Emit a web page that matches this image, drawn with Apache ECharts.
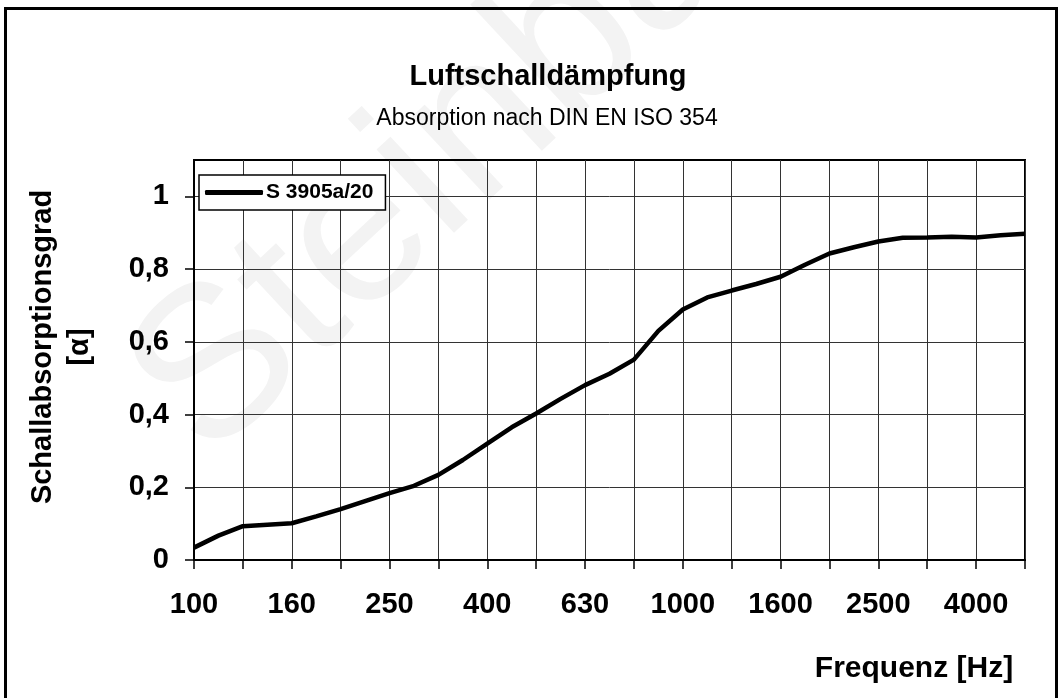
<!DOCTYPE html>
<html>
<head>
<meta charset="utf-8">
<script src="https://cdn.jsdelivr.net/npm/echarts@6/dist/echarts.min.js"></script>
<style>
  html, body { margin: 0; padding: 0; background: #fff; }
  #chart { width: 1064px; height: 698px; }
</style>
</head>
<body>
<div id="chart"></div>
<script>
// 1/6-octave frequencies, 100 Hz .. 5000 Hz
const frequencies = ['100', '112', '125', '140', '160', '180', '200', '224', '250', '280',
  '315', '355', '400', '450', '500', '560', '630', '710', '800', '900',
  '1000', '1120', '1250', '1400', '1600', '1800', '2000', '2240', '2500', '2800',
  '3150', '3550', '4000', '4500', '5000']
// absorption coefficient
const alpha = [0.034, 0.067, 0.093, 0.097, 0.101, 0.12, 0.14, 0.162, 0.184, 0.204,
  0.234, 0.275, 0.32, 0.365, 0.403, 0.443, 0.481, 0.512, 0.551, 0.63,
  0.689, 0.722, 0.741, 0.759, 0.779, 0.812, 0.843, 0.86, 0.876, 0.886,
  0.887, 0.889, 0.887, 0.893, 0.897]
const yTicks = [0, 0.2, 0.4, 0.6, 0.8, 1]

const font = '"Liberation Sans", Arial, sans-serif'
const chart = echarts.init(document.getElementById('chart'))

chart.setOption({
    backgroundColor: '#fff',
    animation: false,
    textStyle: { fontFamily: font, color: '#000' },
    title: [
        {
            text: 'Luftschalldämpfung',
            left: 543, top: 57, textAlign: 'center',
            textStyle: { fontSize: 29, fontWeight: 'bold', fontFamily: font, color: '#000' }
        },
        {
            text: 'Absorption nach DIN EN ISO 354',
            left: 542, top: 102, textAlign: 'center',
            textStyle: { fontSize: 23, fontWeight: 'normal', fontFamily: font, color: '#000' }
        },
        {
            text: 'Frequenz [Hz]',
            left: 909, top: 649, textAlign: 'center',
            textStyle: { fontSize: 30, fontWeight: 'bold', fontFamily: font, color: '#000' }
        }
    ],
    legend: {
        data: ['S 3905a/20'],
        left: 199, top: 175,
        backgroundColor: '#fff',
        borderColor: '#000',
        borderWidth: 1.5,
        borderRadius: 0,
        padding: [7, 12, 7, 6],
        itemWidth: 58,
        itemHeight: 5,
        icon: 'roundRect',
        textStyle: { fontSize: 21, fontWeight: 'bold', fontFamily: font, color: '#000', padding: [0, 0, 0, -2] }
    },
    grid: { left: 194, right: 39, top: 160, bottom: 138, show: true, borderColor: '#000', borderWidth: 2, containLabel: false },
    xAxis: {
        type: 'category',
        data: frequencies,
        boundaryGap: false,
        axisLine: { lineStyle: { color: '#000', width: 2 } },
        axisTick: { show: true, interval: 1, length: 9, lineStyle: { color: '#000', width: 1.5 } },
        splitLine: { show: true, interval: 1, lineStyle: { color: '#333', width: 1 } },
        axisLabel: { interval: 3, margin: 30, fontSize: 29, fontWeight: 'bold', color: '#000', fontFamily: font }
    },
    yAxis: {
        type: 'value',
        min: 0, max: 1.1, interval: 0.2,
        name: 'Schallabsorptionsgrad\n[α]',
        nameLocation: 'middle',
        nameGap: 96,
        nameRotate: 90,
        nameTextStyle: { fontSize: 29, fontWeight: 'bold', color: '#000', fontFamily: font, lineHeight: 37, padding: [0, 0, 0, 26] },
        axisLine: { show: true, lineStyle: { color: '#000', width: 2 } },
        axisTick: { show: true, length: 9, customValues: yTicks, lineStyle: { color: '#000', width: 1.5 } },
        splitLine: { show: true, lineStyle: { color: '#333', width: 1 } },
        axisLabel: {
            customValues: yTicks,
            margin: 25, fontSize: 29, fontWeight: 'bold', color: '#000', fontFamily: font,
            formatter: v => (v > 1.05 ? '' : String(Math.round(v * 10) / 10).replace('.', ','))
        }
    },
    series: [
        {
            name: 'S 3905a/20',
            type: 'line',
            data: alpha,
            showSymbol: false,
            symbol: 'none',
            smooth: false,
            lineStyle: { color: '#000', width: 4.5 },
            itemStyle: { color: '#000' },
            z: 5
        }
    ],
    graphic: [
        {
            type: 'text',
            x: 167, y: 419,
            rotation: 0.75,
            z: -10,
            style: { text: 'Steinbach', fontSize: 215, fontFamily: font, fill: '#f3f3f3', align: 'left', verticalAlign: 'middle' },
            silent: true
        },
        {
            type: 'rect',
            shape: { x: 5.5, y: 8.5, width: 1051, height: 720 },
            style: { fill: 'none', stroke: '#000', lineWidth: 3 },
            silent: true,
            z: 10
        }
    ]
})
</script>
</body>
</html>
